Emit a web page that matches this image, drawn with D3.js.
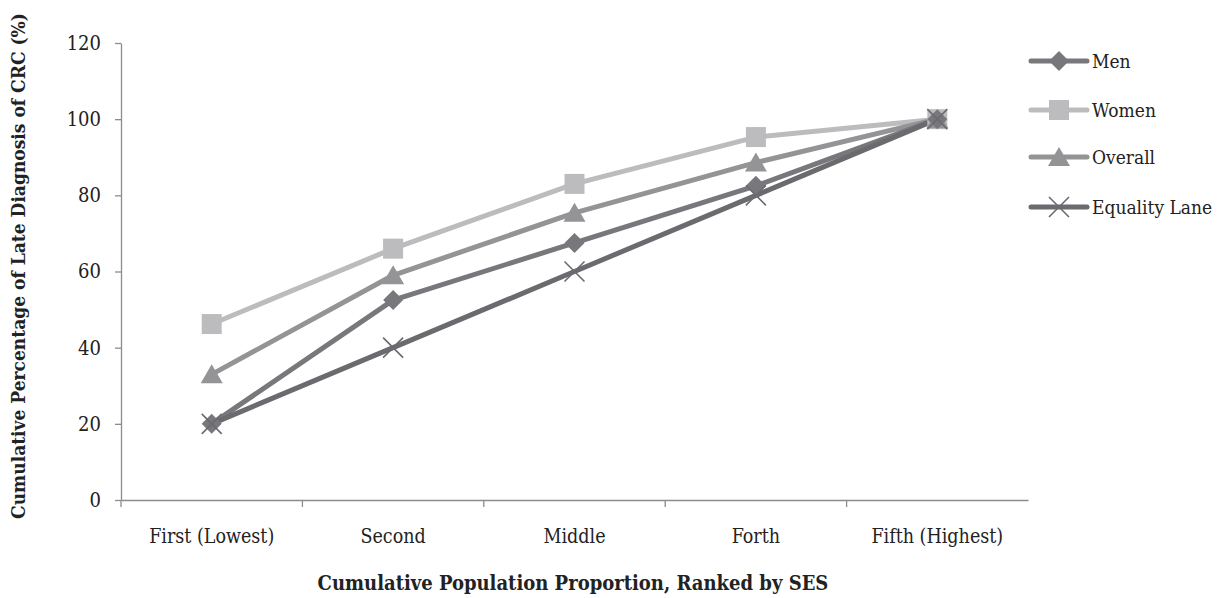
<!DOCTYPE html>
<html><head><meta charset="utf-8">
<script src="https://cdn.jsdelivr.net/npm/d3@7"></script>
<style>body{margin:0;background:#fff}svg{display:block}</style>
</head><body><svg id="c" width="1219" height="598"></svg>
<script>
const categories = ["First (Lowest)","Second","Middle","Forth","Fifth (Highest)"];
const seriesNames = ["Men","Women","Overall","Equality Lane"];
const men = [20, 52.5, 67.5, 82.5, 100];
const women = [46.2, 66, 83, 95.3, 100];
const overall = [33, 59, 75.4, 88.6, 100];
const equality = [20, 40, 60, 80, 100];
const yTicks = [0,20,40,60,80,100,120];
const colors = ["#78787c","#bcbcbf","#949497","#6b6b6f"];
const shapes = ["diamond","square","triangle","cross"];
const data = [men, women, overall, equality];

const svg = d3.select("#c");
const font = "'DejaVu Serif Condensed', 'DejaVu Serif', serif";
const x = d3.scaleBand().domain(categories).range([121, 1028]);
const y = d3.scaleLinear().domain([0,120]).range([500, 43]);

const ax = svg.append("g").attr("transform","translate(0,500)")
  .call(d3.axisBottom(x).tickSize(0).tickSizeOuter(0));
ax.select(".domain").attr("stroke","#8c8c8c").attr("stroke-width",1.3);
ax.selectAll("text").attr("font-family",font).attr("font-size",19.5).attr("fill","#222").attr("dy","2.05em");
const bounds = categories.map(c=>x(c));
svg.append("g").selectAll("line").data(bounds).join("line")
  .attr("x1",d=>d).attr("x2",d=>d).attr("y1",500).attr("y2",507)
  .attr("stroke","#8c8c8c").attr("stroke-width",1.3);

const ay = svg.append("g").attr("transform","translate(121,0)")
  .call(d3.axisLeft(y).tickValues(yTicks).tickSize(6).tickPadding(14).tickSizeOuter(0));
ay.select(".domain").attr("stroke","#8c8c8c").attr("stroke-width",1.3);
ay.selectAll("line").attr("stroke","#8c8c8c").attr("stroke-width",1.3);
ay.selectAll("text").attr("font-family",font).attr("font-size",20).attr("fill","#222");

function marker(g, shape, color, cx, cy){
  if(shape==="diamond"){
    g.append("path").attr("d",`M${cx},${cy-10}L${cx+10},${cy}L${cx},${cy+10}L${cx-10},${cy}Z`).attr("fill",color);
  } else if(shape==="square"){
    g.append("rect").attr("x",cx-10).attr("y",cy-10).attr("width",20).attr("height",20).attr("fill",color);
  } else if(shape==="triangle"){
    g.append("path").attr("d",`M${cx},${cy-10}L${cx+11},${cy+9}L${cx-11},${cy+9}Z`).attr("fill",color);
  } else {
    g.append("path").attr("d",`M${cx-10},${cy-10}L${cx+10},${cy+10}M${cx+10},${cy-10}L${cx-10},${cy+10}`)
      .attr("stroke",color).attr("stroke-width",1.6).attr("fill","none");
  }
}

const line = d3.line().x((d,i)=>x(categories[i])+x.bandwidth()/2).y(d=>y(d));
const order = [1,2,0,3];
order.forEach(k=>{
  svg.append("path").datum(data[k]).attr("d",line).attr("fill","none")
    .attr("stroke",colors[k]).attr("stroke-width",5).attr("stroke-linejoin","round");
});
order.forEach(k=>{
  const g = svg.append("g");
  data[k].forEach((v,i)=>marker(g, shapes[k], colors[k], x(categories[i])+x.bandwidth()/2, y(v)));
});

const ly = [61,110,157,207];
seriesNames.forEach((n,k)=>{
  const g = svg.append("g");
  g.append("line").attr("x1",1031).attr("x2",1087).attr("y1",ly[k]).attr("y2",ly[k])
    .attr("stroke",colors[k]).attr("stroke-width",5).attr("stroke-linecap","round");
  marker(g, shapes[k], colors[k], 1059, ly[k]);
  g.append("text").attr("x",1092).attr("y",ly[k]).attr("dy","0.35em")
    .attr("font-family",font).attr("font-size",19).attr("fill","#222").text(n);
});

svg.append("text").attr("x",573).attr("y",590).attr("text-anchor","middle")
  .attr("font-family",font).attr("font-size",20).attr("font-weight","bold").attr("fill","#222")
  .text("Cumulative Population Proportion, Ranked by SES");
svg.append("text").attr("transform","translate(25,266) rotate(-90)").attr("text-anchor","middle")
  .attr("font-family",font).attr("font-size",19).attr("font-weight","bold").attr("fill","#222")
  .text("Cumulative Percentage of Late Diagnosis of CRC (%)");
</script></body></html>
